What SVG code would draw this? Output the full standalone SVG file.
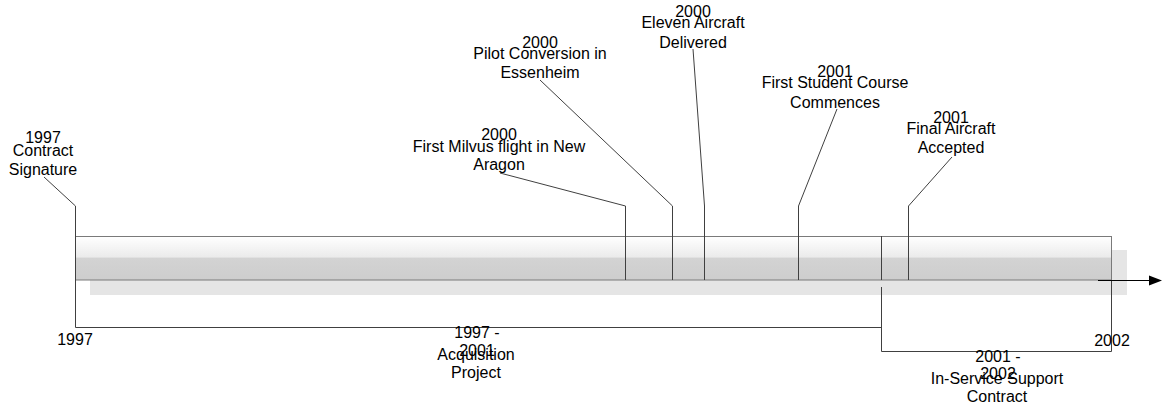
<svg xmlns="http://www.w3.org/2000/svg" width="1165" height="408" viewBox="0 0 1165 408">
<defs>
<linearGradient id="barg" x1="0" y1="0" x2="0" y2="1">
<stop offset="0" stop-color="#ffffff"/>
<stop offset="0.47" stop-color="#ebebeb"/>
<stop offset="0.5" stop-color="#d3d3d3"/>
<stop offset="1" stop-color="#cdcdcd"/>
</linearGradient>
</defs>
<style>
text{font-family:"Liberation Sans",Arial,sans-serif;font-size:16px;fill:#000;text-anchor:middle}
.ln{stroke:#404040;stroke-width:1;fill:none}
.bar{fill:url(#barg);stroke:#7a7a7a;stroke-width:1}
.sh{fill:#e5e5e5}
</style>
<rect width="1165" height="408" fill="#fff"/>
<g id="timeline">
<rect class="sh" x="90" y="250" width="1037" height="45"/>
<rect class="bar" x="75.5" y="236.5" width="1036" height="43.5"/>
<line class="ln" x1="881.5" y1="236" x2="881.5" y2="280"/>
</g>
<g id="connectors">
<polyline class="ln" points="44,177 75.5,206 75.5,327.5 881.5,327.5"/>
<polyline class="ln" points="881.5,287 881.5,351.5 1111.5,351.5 1111.5,280"/>
<polyline class="ln" points="500,173 625.5,206 625.5,280"/>
<polyline class="ln" points="540,80 672.5,206 672.5,280"/>
<polyline class="ln" points="693,49 704.5,206 704.5,280"/>
<polyline class="ln" points="837,109 798.5,206 798.5,280"/>
<polyline class="ln" points="952,157 908.5,206 908.5,280"/>
<line x1="1098" y1="280.5" x2="1150" y2="280.5" stroke="#000" stroke-width="1"/>
<polygon points="1149,275.5 1162,280.5 1149,285.5" fill="#000"/>
</g>
<g id="ev-contract">
<text x="43" y="143">1997</text>
<text x="43" y="156">Contract</text>
<text x="43" y="175">Signature</text>
</g>
<g id="ev-milvus">
<text x="499" y="140">2000</text>
<text x="499" y="152">First Milvus flight in New</text>
<text x="499" y="170">Aragon</text>
</g>
<g id="ev-pilot">
<text x="540" y="48">2000</text>
<text x="540" y="59">Pilot Conversion in</text>
<text x="540" y="78">Essenheim</text>
</g>
<g id="ev-eleven">
<text x="693" y="17">2000</text>
<text x="693" y="28">Eleven Aircraft</text>
<text x="693" y="48">Delivered</text>
</g>
<g id="ev-student">
<text x="835" y="77">2001</text>
<text x="835" y="88">First Student Course</text>
<text x="835" y="108">Commences</text>
</g>
<g id="ev-final">
<text x="951" y="123">2001</text>
<text x="951" y="134">Final Aircraft</text>
<text x="951" y="153">Accepted</text>
</g>
<g id="axis-labels">
<text x="75" y="345">1997</text>
<text x="1112" y="346">2002</text>
</g>
<g id="span-acquisition">
<text x="477" y="338">1997 -</text>
<text x="477" y="356">2001</text>
<text x="476" y="360">Acquisition</text>
<text x="476" y="378">Project</text>
</g>
<g id="span-support">
<text x="998" y="362">2001 -</text>
<text x="998" y="379">2002</text>
<text x="997" y="384">In-Service Support</text>
<text x="997" y="402">Contract</text>
</g>
</svg>
